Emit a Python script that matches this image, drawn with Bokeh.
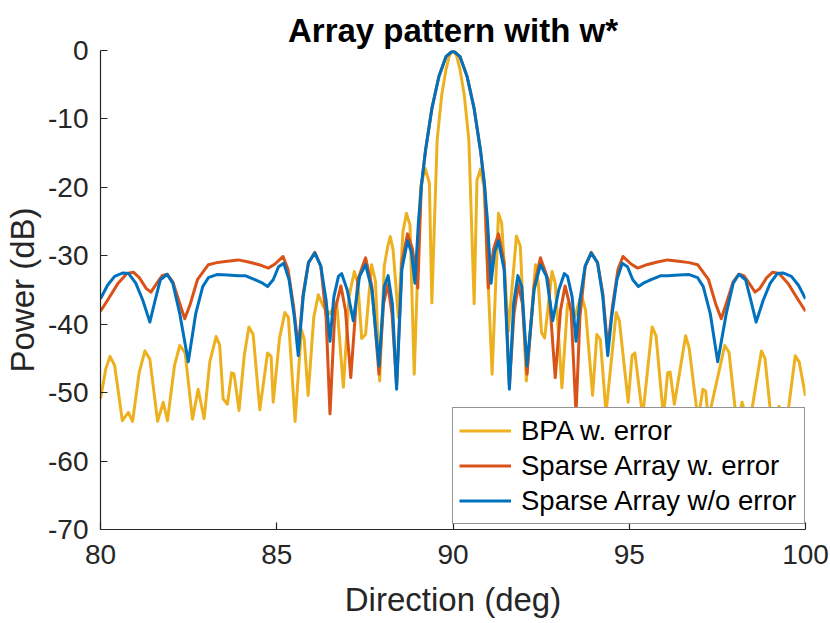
from bokeh.plotting import figure
from bokeh.models import Range1d, FixedTicker, PrintfTickFormatter
from bokeh.embed import file_html
from bokeh.resources import INLINE

# ---- data ----
bpa_x = [80.0, 80.15, 80.27, 80.4, 80.62, 80.79, 80.91, 81.1, 81.26, 81.4, 81.62, 81.78, 81.9,
         82.1, 82.25, 82.4, 82.61, 82.77, 82.94, 83.1, 83.28, 83.38, 83.48, 83.6, 83.72, 83.79,
         83.93, 84.08, 84.21, 84.33, 84.52, 84.74, 84.84, 84.9, 85.08, 85.23, 85.33, 85.52, 85.7,
         85.78, 85.89, 86.05, 86.18, 86.32, 86.5, 86.7, 86.89, 87.05, 87.2, 87.3, 87.41, 87.52,
         87.69, 87.8, 87.92, 88.05, 88.15, 88.22, 88.3, 88.45, 88.58, 88.68, 88.78, 88.9, 89.08,
         89.21, 89.33, 89.4, 89.55, 89.68, 89.8, 89.9, 90.0, 90.1, 90.2, 90.32, 90.45, 90.6,
         90.68, 90.78, 90.88, 91.11, 91.29, 91.38, 91.57, 91.8, 91.91, 92.08, 92.34, 92.42, 92.51,
         92.6, 92.81, 92.9, 93.09, 93.25, 93.45, 93.64, 93.76, 93.96, 94.08, 94.18, 94.34, 94.63,
         94.72, 94.97, 95.08, 95.16, 95.38, 95.65, 95.76, 95.97, 96.09, 96.16, 96.28, 96.6, 96.7,
         96.95, 97.09, 97.17, 97.24, 97.71, 97.83, 98.06, 98.2, 98.4, 98.75, 98.85, 99.05, 99.25,
         99.45, 99.71, 99.82, 100.0]
bpa_db = [-50.9, -46.5, -44.7, -46.0, -54.1, -52.9, -54.2, -47.0, -43.9, -45.1, -54.2, -51.4, -54.1,
          -46.0, -43.1, -44.2, -53.9, -49.5, -53.8, -45.5, -41.8, -43.0, -50.9, -51.7, -47.1, -47.3,
          -52.6, -44.5, -40.4, -41.5, -52.5, -44.2, -44.7, -51.4, -42.0, -38.3, -39.0, -54.2, -40.8,
          -42.2, -50.4, -39.0, -35.7, -37.4, -38.5, -36.8, -49.2, -36.0, -32.3, -34.0, -42.1, -41.5,
          -31.3, -33.7, -48.3, -31.5, -28.6, -27.2, -29.1, -39.0, -26.5, -23.8, -25.5, -47.3, -20.0,
          -17.2, -19.4, -36.9, -13.1, -6.5, -2.8, -0.7, 0.0, -0.7, -2.8, -6.5, -13.1, -37.0,
          -19.0, -17.3, -20.0, -47.3, -23.8, -25.2, -41.0, -27.1, -28.6, -48.3, -31.3, -34.0, -41.2,
          -42.0, -32.3, -34.0, -49.3, -37.0, -39.0, -35.7, -37.9, -50.4, -41.5, -42.2, -53.0, -38.3,
          -39.5, -51.4, -44.6, -44.2, -53.5, -40.4, -41.7, -53.5, -47.1, -47.0, -51.7, -41.7, -43.5,
          -54.0, -49.5, -49.8, -54.0, -43.1, -44.1, -55.0, -51.4, -55.0, -43.9, -45.0, -55.0, -52.0,
          -55.0, -44.6, -45.5, -50.5]

sparse_err_x = [80.0, 80.2, 80.5, 80.75, 80.93, 81.1, 81.3, 81.43, 81.6, 81.75, 81.89, 82.05, 82.25,
                82.39, 82.55, 82.75, 83.06, 83.3, 83.6, 83.91, 84.2, 84.5, 84.76, 84.95, 85.18, 85.32,
                85.48, 85.61, 85.75, 85.9, 86.08, 86.25, 86.4, 86.51, 86.65, 86.82, 86.95, 87.1, 87.3,
                87.52, 87.7, 87.9, 88.03, 88.15, 88.27, 88.4, 88.55, 88.71, 88.85, 89.0, 89.1, 89.22,
                89.4, 89.6, 89.8, 90.0, 90.2, 90.4, 90.6, 90.78, 90.9, 91.0, 91.15, 91.29, 91.45,
                91.6, 91.73, 91.85, 91.97, 92.1, 92.3, 92.48, 92.7, 92.9, 93.05, 93.18, 93.35, 93.49,
                93.6, 93.75, 93.92, 94.1, 94.25, 94.39, 94.52, 94.68, 94.82, 95.05, 95.24, 95.5, 95.8,
                96.09, 96.4, 96.7, 96.94, 97.25, 97.45, 97.61, 97.75, 97.95, 98.11, 98.25, 98.4, 98.57,
                98.7, 98.9, 99.07, 99.25, 99.5, 99.8, 100.0]
sparse_err_db = [-38.1, -36.5, -34.0, -32.6, -32.4, -33.2, -34.8, -35.3, -34.0, -32.9, -32.7, -33.8, -37.0,
                 -39.2, -37.0, -33.5, -31.3, -31.0, -30.8, -30.6, -30.9, -31.3, -31.8, -31.2, -30.1, -32.0,
                 -37.5, -43.5, -35.5, -31.0, -29.5, -31.5, -39.0, -53.1, -38.0, -34.4, -38.0, -47.8, -33.5,
                 -30.3, -34.5, -47.3, -37.0, -34.2, -38.5, -49.0, -31.0, -26.8, -29.0, -34.7, -20.0, -14.6,
                 -8.5, -3.8, -0.9, 0.0, -0.9, -3.8, -8.5, -14.6, -20.0, -34.7, -29.0, -26.8, -31.0,
                 -49.0, -38.5, -34.2, -37.0, -47.3, -34.5, -30.3, -33.5, -47.8, -38.0, -34.4, -38.0, -53.1,
                 -39.0, -31.5, -29.5, -31.0, -35.5, -43.5, -37.5, -32.0, -30.1, -31.2, -31.8, -31.3, -30.9,
                 -30.6, -30.8, -31.0, -31.3, -33.5, -37.0, -39.2, -37.0, -33.8, -32.7, -32.9, -34.0, -35.3,
                 -34.8, -33.2, -32.4, -32.6, -34.0, -36.5, -38.1]

sparse_x = [80.0, 80.2, 80.4, 80.64, 80.8, 81.0, 81.2, 81.4, 81.55, 81.7, 81.89, 82.05, 82.25, 82.49,
            82.7, 82.9, 83.06, 83.3, 83.6, 83.91, 84.1, 84.38, 84.6, 84.74, 84.9, 85.05, 85.2, 85.35,
            85.5, 85.61, 85.75, 85.9, 86.08, 86.25, 86.4, 86.51, 86.62, 86.75, 86.84, 87.0, 87.17,
            87.35, 87.52, 87.7, 87.9, 88.05, 88.16, 88.28, 88.4, 88.55, 88.71, 88.82, 88.92, 89.02,
            89.11, 89.22, 89.4, 89.6, 89.8, 90.0, 90.2, 90.4, 90.6, 90.78, 90.89, 90.98, 91.08,
            91.18, 91.29, 91.45, 91.6, 91.72, 91.84, 91.95, 92.1, 92.3, 92.48, 92.65, 92.83, 93.0,
            93.16, 93.25, 93.38, 93.49, 93.6, 93.75, 93.92, 94.1, 94.25, 94.39, 94.5, 94.65, 94.8,
            94.95, 95.1, 95.26, 95.4, 95.62, 95.9, 96.09, 96.4, 96.7, 96.94, 97.1, 97.3, 97.51,
            97.75, 97.95, 98.11, 98.3, 98.45, 98.6, 98.8, 99.0, 99.2, 99.36, 99.6, 99.8, 100.0]
sparse_db = [-36.3, -34.3, -33.0, -32.5, -32.6, -34.0, -36.5, -39.7, -36.5, -33.5, -32.7, -34.0, -38.5, -45.5,
             -38.5, -34.5, -33.2, -32.75, -32.8, -32.9, -32.9, -33.5, -34.0, -34.5, -33.5, -31.6, -31.1, -33.5,
             -39.0, -44.6, -36.0, -31.0, -29.6, -31.5, -36.5, -42.5, -36.0, -33.0, -32.6, -35.0, -39.5,
             -33.0, -31.3, -35.0, -46.1, -34.5, -32.9, -37.0, -49.5, -32.0, -27.8, -29.5, -34.0, -25.0,
             -19.4, -14.6, -8.5, -3.8, -0.9, 0.0, -0.9, -3.8, -8.5, -14.6, -19.4, -25.0, -34.0,
             -29.5, -27.8, -32.0, -49.5, -37.0, -32.9, -34.5, -46.1, -35.0, -31.3, -33.0, -39.5, -35.0,
             -32.6, -33.0, -36.0, -42.5, -36.5, -31.5, -29.6, -31.0, -36.0, -44.6, -39.0, -33.5, -31.1,
             -31.6, -33.5, -34.5, -34.0, -33.5, -32.9, -32.9, -32.8, -32.75, -33.2, -34.5, -38.5, -45.5,
             -38.5, -34.0, -32.7, -33.5, -36.5, -39.7, -36.5, -34.0, -32.6, -32.5, -33.0, -34.3, -36.3]

x_ticks = [80, 85, 90, 95, 100]
y_ticks = [-70, -60, -50, -40, -30, -20, -10, 0]
series_labels = ["BPA w. error", "Sparse Array w. error", "Sparse Array w/o error"]

# ---- figure ----
FONT = "Liberation Sans"
DARK = "#262626"

p = figure(width=830, height=620, x_range=Range1d(80, 100), y_range=Range1d(-70, 0),
           output_backend="svg", toolbar_location=None, title="Array pattern with w*")
p.min_border_left = 100
p.min_border_right = 25
p.min_border_top = 50
p.min_border_bottom = 89
p.outline_line_color = None
p.background_fill_color = "white"
p.border_fill_color = "white"
p.xgrid.visible = False
p.ygrid.visible = False

p.title.align = "center"
p.title.text_font = FONT
p.title.text_font_size = "33px"
p.title.text_font_style = "bold"
p.title.text_color = "black"
p.title.standoff = 4

p.xaxis.ticker = FixedTicker(ticks=x_ticks)
p.yaxis.ticker = FixedTicker(ticks=y_ticks)
p.xaxis.formatter = PrintfTickFormatter(format="%d")
p.yaxis.formatter = PrintfTickFormatter(format="%d")
p.xaxis.axis_label = "Direction (deg)"
p.yaxis.axis_label = "Power (dB)"
for ax in (p.xaxis[0], p.yaxis[0]):
    ax.axis_line_color = DARK
    ax.axis_line_width = 1.2
    ax.major_tick_line_color = DARK
    ax.major_tick_line_width = 1.2
    ax.major_tick_in = 7
    ax.major_tick_out = 0
    ax.minor_tick_line_color = None
    ax.major_label_text_font = FONT
    ax.major_label_text_font_size = "28px"
    ax.major_label_text_color = DARK
    ax.axis_label_text_font = FONT
    ax.axis_label_text_font_size = "33px"
    ax.axis_label_text_font_style = "normal"
    ax.axis_label_text_color = DARK
p.yaxis.major_label_standoff = 12
p.yaxis.axis_label_standoff = 4
p.xaxis.major_label_standoff = 15
p.xaxis.axis_label_standoff = 14

p.line(bpa_x, bpa_db, line_color="#EDB120", line_width=3, line_join="round",
       legend_label=series_labels[0])
p.line(sparse_err_x, sparse_err_db, line_color="#D95319", line_width=3, line_join="round",
       legend_label=series_labels[1])
p.line(sparse_x, sparse_db, line_color="#0072BD", line_width=3, line_join="round",
       legend_label=series_labels[2])

lg = p.legend[0]
lg.location = (352, 5)
lg.border_line_color = DARK
lg.border_line_width = 1
lg.background_fill_color = "white"
lg.background_fill_alpha = 1.0
lg.label_text_font = FONT
lg.label_text_font_size = "27.5px"
lg.label_text_color = "black"
lg.glyph_width = 52
lg.glyph_height = 33
lg.label_height = 33
lg.label_width = 277
lg.label_standoff = 10
lg.padding = 6
lg.spacing = 2
lg.margin = 0

open("out.html", "w").write(file_html(p, INLINE))
